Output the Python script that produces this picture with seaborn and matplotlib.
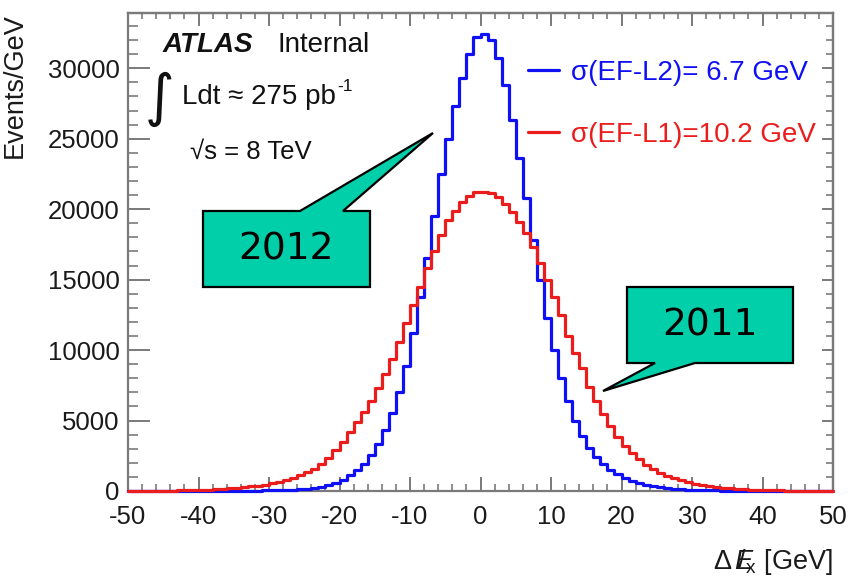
import numpy as np
import pandas as pd
import matplotlib
matplotlib.use("Agg")
import matplotlib.pyplot as plt
import seaborn as sns
from matplotlib.ticker import MultipleLocator
from matplotlib.patches import Polygon

# ---------------- data ----------------
bin_edges = list(range(-50, 51, 1))          # 1 GeV bins from -50 to 50
bin_centers = [e + 0.5 for e in bin_edges[:-1]]

# 2012 : sigma(EF-L2) = 6.7 GeV   (bins -50 ... 49)
blue_counts = [
    2, 2, 2, 3, 3, 4, 4, 5, 6, 7,
    8, 9, 11, 13, 15, 18, 22, 27, 33, 40,
    48, 60, 75, 95, 125, 170, 230, 310, 430, 600,
    800, 1100, 1480, 1950, 2550, 3300, 4300, 5500, 7000, 8900,
    11200, 13800, 16500, 19500, 22500, 25000, 27300, 29300, 31000, 32200,
    32400, 32000, 30700, 28800, 26300, 23600, 20800, 17800, 15000, 12300,
    10000, 8000, 6400, 5000, 3900, 3050, 2400, 1900, 1500, 1180,
    920, 720, 560, 440, 340, 265, 205, 160, 125, 100,
    80, 65, 52, 42, 34, 28, 22, 18, 15, 12,
    10, 8, 7, 6, 5, 4, 4, 3, 3, 2,
]

# 2011 : sigma(EF-L1) = 10.2 GeV  (bins -50 ... 49)
red_counts = [
    10, 12, 15, 19, 23, 28, 35, 42, 50, 62,
    75, 90, 120, 150, 185, 225, 270, 320, 390, 460,
    540, 640, 760, 900, 1100, 1320, 1580, 1900, 2350, 2900,
    3500, 4200, 4900, 5600, 6400, 7300, 8300, 9400, 10600, 11900,
    13200, 14500, 15800, 17000, 18200, 19200, 19900, 20500, 20900, 21200,
    21250, 21150, 20850, 20400, 19800, 19100, 18300, 17300, 16200, 15000,
    13800, 12500, 11000, 9800, 8700, 7400, 6400, 5450, 4600, 3850,
    3200, 2700, 2250, 1850, 1550, 1300, 1080, 900, 760, 620,
    510, 420, 345, 280, 230, 185, 150, 120, 95, 75,
    60, 48, 38, 31, 25, 20, 16, 13, 11, 9,
]

legend_labels = ["\u03c3(EF-L2)= 6.7 GeV", "\u03c3(EF-L1)=10.2 GeV"]
x_ticks = [-50, -40, -30, -20, -10, 0, 10, 20, 30, 40, 50]
y_ticks = [0, 5000, 10000, 15000, 20000, 25000, 30000]

df_blue = pd.DataFrame({"dEx": bin_centers, "events": blue_counts})
df_red = pd.DataFrame({"dEx": bin_centers, "events": red_counts})

# ---------------- style ----------------
sns.set_style("ticks")
plt.rcParams["font.family"] = ["Liberation Sans", "DejaVu Sans"]
plt.rcParams["mathtext.fontset"] = "custom"
plt.rcParams["mathtext.rm"] = "Liberation Sans"
plt.rcParams["mathtext.it"] = "Liberation Sans:italic"

W, H = 851, 578
BLUE = "#1010f5"
RED = "#ea1c1c"
FRAME = "#7a7a7a"
TEAL = "#00cfa9"

fig = plt.figure(figsize=(W / 100, H / 100), dpi=100)
fig.patch.set_facecolor("white")
ax_left, ax_right, ax_top, ax_bot = 128, 833, 13.3, 491
ax = fig.add_axes([ax_left / W, 1 - ax_bot / H, (ax_right - ax_left) / W, (ax_bot - ax_top) / H])

sns.histplot(data=df_blue, x="dEx", weights="events", bins=bin_edges, element="step",
             fill=False, color=BLUE, linewidth=2.3, ax=ax, zorder=4, clip_on=False)
sns.histplot(data=df_red, x="dEx", weights="events", bins=bin_edges, element="step",
             fill=False, color=RED, linewidth=2.3, ax=ax, zorder=4, clip_on=False)

ax.set_xlim(-50, 50)
ax.set_ylim(0, 33900)

for s in ax.spines.values():
    s.set_visible(True)
    s.set_color(FRAME)
    s.set_linewidth(1.6)
    s.set_zorder(2)

ax.set_xticks(x_ticks)
ax.set_yticks(y_ticks)
ax.set_xticklabels([str(v) for v in x_ticks])
ax.set_yticklabels([str(v) for v in y_ticks])
ax.xaxis.set_minor_locator(MultipleLocator(2))
ax.yaxis.set_minor_locator(MultipleLocator(1000))
ax.tick_params(axis="x", which="major", direction="in", length=10, width=1.4,
               color=FRAME, labelsize=18.5, pad=10, labelcolor="#1a1a1a")
ax.tick_params(axis="x", which="minor", direction="in", length=5, width=1.2, color=FRAME)
ax.tick_params(axis="y", which="major", direction="in", length=15.5, width=1.4,
               color=FRAME, labelsize=18.5, pad=6, labelcolor="#1a1a1a")
ax.tick_params(axis="y", which="minor", direction="in", length=7, width=1.2, color=FRAME)

# top / right ticks
secx = ax.secondary_xaxis("top")
secx.xaxis.set_major_locator(MultipleLocator(10))
secx.xaxis.set_minor_locator(MultipleLocator(2))
secx.tick_params(axis="x", which="major", direction="in", length=9, width=1.4,
                 color=FRAME, labeltop=False)
secx.tick_params(axis="x", which="minor", direction="in", length=4, width=1.2, color=FRAME)
secy = ax.secondary_yaxis("right")
secy.yaxis.set_major_locator(MultipleLocator(5000))
secy.yaxis.set_minor_locator(MultipleLocator(1000))
secy.tick_params(axis="y", which="major", direction="in", length=8, width=1.4,
                 color=FRAME, labelright=False)
secy.tick_params(axis="y", which="minor", direction="in", length=5, width=1.2, color=FRAME)
for sa in (secx, secy):
    for s in sa.spines.values():
        s.set_color(FRAME)
        s.set_linewidth(1.6)

ax.set_ylabel("Events/GeV", fontsize=19.5, loc="top", color="#1a1a1a")
ax.yaxis.set_label_coords((28 - ax_left) / (ax_right - ax_left), 1.0)
ax.set_xlabel(r"$\Delta\,E\!\!\!\!/_{\rm x}$ [GeV]", fontsize=19.5, loc="right", color="#1a1a1a")
ax.xaxis.set_label_coords(1.0, (ax_bot - 562) / (ax_bot - ax_top))
ax.xaxis.label.set_va("center")

# legend
leg = ax.legend(handles=ax.lines[:2], labels=legend_labels, loc="upper left",
                bbox_to_anchor=(528 / W, 1 - 60 / H), bbox_transform=fig.transFigure,
                frameon=False, fontsize=20, handlelength=1.1, handletextpad=0.45,
                labelspacing=1.28, borderpad=0, borderaxespad=0)
for txt, c in zip(leg.get_texts(), [BLUE, RED]):
    txt.set_color(c)


def fx(x, y):
    return (x / W, 1 - y / H)


def ftext(x, y, s, **kw):
    fig.text(x / W, 1 - y / H, s, **kw)


# ATLAS labels
ftext(163, 45, "ATLAS", fontsize=20, fontweight="bold", fontstyle="italic",
      va="center", ha="left", color="#111111")
ftext(278, 45, "Internal", fontsize=20, va="center", ha="left", color="#111111")
ftext(160, 99, "\u222b", fontsize=41, va="center", ha="center", color="#111111",
      family=["DejaVu Sans"])
ftext(182, 97, "Ldt \u2248 275 pb", fontsize=20, va="center", ha="left", color="#111111")
ftext(337, 86, "-1", fontsize=12.5, va="center", ha="left", color="#111111")
ftext(190, 152, "\u221as = 8 TeV", fontsize=18.5, va="center", ha="left", color="#111111")

# callouts
call_2012 = [(203, 211), (300, 211), (433, 133), (343, 211), (370, 211), (370, 287), (203, 287)]
call_2011 = [(627, 287), (793, 287), (793, 363), (695, 363), (603, 391), (655, 363), (627, 363)]
for pts, label, cx, cy in [(call_2012, "2012", 286, 249), (call_2011, "2011", 710, 325)]:
    poly = Polygon([fx(*p) for p in pts], closed=True, transform=fig.transFigure,
                   facecolor=TEAL, edgecolor="black", linewidth=1.6, zorder=5)
    fig.add_artist(poly)
    ftext(cx, cy, label, fontsize=27, va="center", ha="center", color="black",
          family=["DejaVu Sans"], zorder=6)

fig.savefig("out.png", dpi=100, facecolor="white")
